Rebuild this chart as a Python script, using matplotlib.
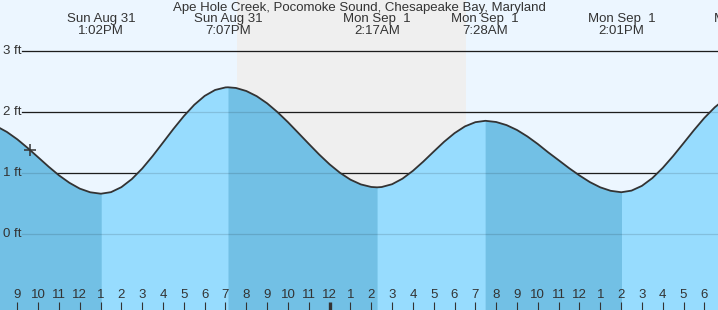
import matplotlib
matplotlib.use("Agg")
import matplotlib.pyplot as plt
import numpy as np

# ---------------- data ----------------
title = "Ape Hole Creek, Pocomoke Sound, Chesapeake Bay, Maryland"

# hours since midnight Sun Aug 31 (local)
tide_hours = [8.0, 8.5, 9.0, 9.5, 10.0, 10.5, 11.0, 11.5, 12.0, 12.5, 13.0, 13.03,
              13.5, 14.0, 14.5, 15.0, 15.5, 16.0, 16.5, 17.0, 17.5, 18.0, 18.5, 19.0, 19.12,
              19.5, 20.0, 20.5, 21.0, 21.5, 22.0, 22.5, 23.0, 23.5, 24.0, 24.5, 25.0, 25.5, 26.0, 26.28,
              26.5, 27.0, 27.5, 28.0, 28.5, 29.0, 29.5, 30.0, 30.5, 31.0, 31.47,
              31.5, 32.0, 32.5, 33.0, 33.5, 34.0, 34.5, 35.0, 35.5, 36.0, 36.5, 37.0, 37.5, 38.0, 38.02,
              38.5, 39.0, 39.5, 40.0, 40.5, 41.0, 41.5, 42.0, 42.5, 43.0]
tide_ft = [1.771, 1.678, 1.557, 1.415, 1.263, 1.110, 0.967, 0.845, 0.749, 0.689, 0.666, 0.666,
           0.691, 0.773, 0.905, 1.078, 1.283, 1.505, 1.728, 1.938, 2.123, 2.269, 2.366, 2.408, 2.41,
           2.399, 2.349, 2.264, 2.147, 2.002, 1.838, 1.661, 1.483, 1.308, 1.147, 1.008, 0.896, 0.818, 0.776, 0.77,
           0.775, 0.821, 0.912, 1.040, 1.192, 1.356, 1.517, 1.658, 1.769, 1.838, 1.86,
           1.860, 1.841, 1.790, 1.710, 1.604, 1.480, 1.343, 1.215, 1.085, 0.965, 0.856, 0.770, 0.713, 0.690, 0.69,
           0.716, 0.794, 0.921, 1.088, 1.283, 1.494, 1.707, 1.908, 2.082, 2.220]

# high / low events
event_hours = [7.0, 13.03, 19.12, 26.28, 31.47, 38.02, 44.1]
event_ft = [1.85, 0.666, 2.41, 0.77, 1.86, 0.69, 2.35]
event_labels = ["", "Sun Aug 31\n1:02PM", "Sun Aug 31\n7:07PM", "Mon Sep  1\n2:17AM",
                "Mon Sep  1\n7:28AM", "Mon Sep  1\n2:01PM", "Mon Sep  1\n8:06PM"]

sunset_hour = 19.55
sunrise_hour = 30.55
now_hour, now_ft = 9.61, 1.39

y_levels = [0, 1, 2, 3]
y_labels = ["0 ft", "1 ft", "2 ft", "3 ft"]
hour_ticks = list(range(9, 43))
hour_labels = [str((h - 1) % 12 + 1) for h in hour_ticks]

# ---------------- style ----------------
W, H = 718, 310
px_per_hr = 20.82
x0_hr = 9 - 17.3 / px_per_hr
x1_hr = x0_hr + W / px_per_hr
px_per_ft = 61.0
y_top = 234.3 / px_per_ft
y_bot = y_top - H / px_per_ft

bg = "#ecf6ff"
night = "#efefef"
fall_c = "#72c0e5"
rise_c = "#97dcfe"
txt_c = "#333333"
font = "Liberation Sans"
fs = 9.5

fig = plt.figure(figsize=(W / 100, H / 100), dpi=100)
fig.patch.set_facecolor(bg)
ax = fig.add_axes([0, 0, 1, 1])
ax.set_facecolor(bg)
ax.set_xlim(x0_hr, x1_hr)
ax.set_ylim(y_bot, y_top)
ax.axis("off")

ax.axvspan(sunset_hour, sunrise_hour, color=night, zorder=0.5, lw=0)

xmin_frac = 22 / W
for lv in y_levels:
    ax.axhline(lv, xmin=xmin_frac, xmax=1, color="#222222", lw=0.9, zorder=1)
    ax.axhline(lv, xmin=xmin_frac, xmax=1, color="#000000", lw=0.9, alpha=0.13, zorder=3)

t = np.array(tide_hours)
h = np.array(tide_ft)
# base (rising) fill under the whole curve, then falling segments on top
ax.fill_between(t, h, y_bot, color=rise_c, lw=0, zorder=2)
for i in range(len(event_hours) - 1):
    a, b = event_hours[i], event_hours[i + 1]
    if event_ft[i] <= event_ft[i + 1]:
        continue
    m = (t >= a) & (t <= b)
    if m.sum() < 2:
        continue
    ax.fill_between(t[m], h[m], y_bot, color=fall_c, lw=0, zorder=2.1, antialiased=False)

ax.plot(t, h, color="#333333", lw=1.3, zorder=4, solid_joinstyle="round")
ax.plot([now_hour], [now_ft], marker="+", ms=9, mew=1.1, color="#333333", zorder=5)

for lv, lab in zip(y_levels, y_labels):
    ax.text(x0_hr + 3 / px_per_hr, lv, lab, ha="left", va="center", fontsize=fs,
            family=font, color=txt_c, zorder=6)

# hour ticks
for hr, lab in zip(hour_ticks, hour_labels):
    lw = 2.4 if hr == 24 else 0.8
    ax.plot([hr, hr], [y_bot, y_bot + 8 / px_per_ft], color="#333333", lw=lw,
            solid_capstyle="butt", zorder=6)
    ax.text(hr, y_bot + 14.5 / px_per_ft, lab, ha="center", va="center", fontsize=fs,
            family=font, color=txt_c, zorder=6)

fig.text(0.5, 1 - 7.5 / H, title, ha="center", va="center", fontsize=fs, family=font,
         color=txt_c)
for eh, lab in zip(event_hours, event_labels):
    if not lab:
        continue
    xf = (eh - x0_hr) / (x1_hr - x0_hr)
    l1, l2 = lab.split("\n")
    fig.text(xf, 1 - 19 / H, l1, ha="center", va="center", fontsize=fs, family=font, color=txt_c)
    fig.text(xf, 1 - 31.5 / H, l2, ha="center", va="center", fontsize=fs, family=font, color=txt_c)

fig.savefig("out.png", dpi=100, facecolor=bg)
